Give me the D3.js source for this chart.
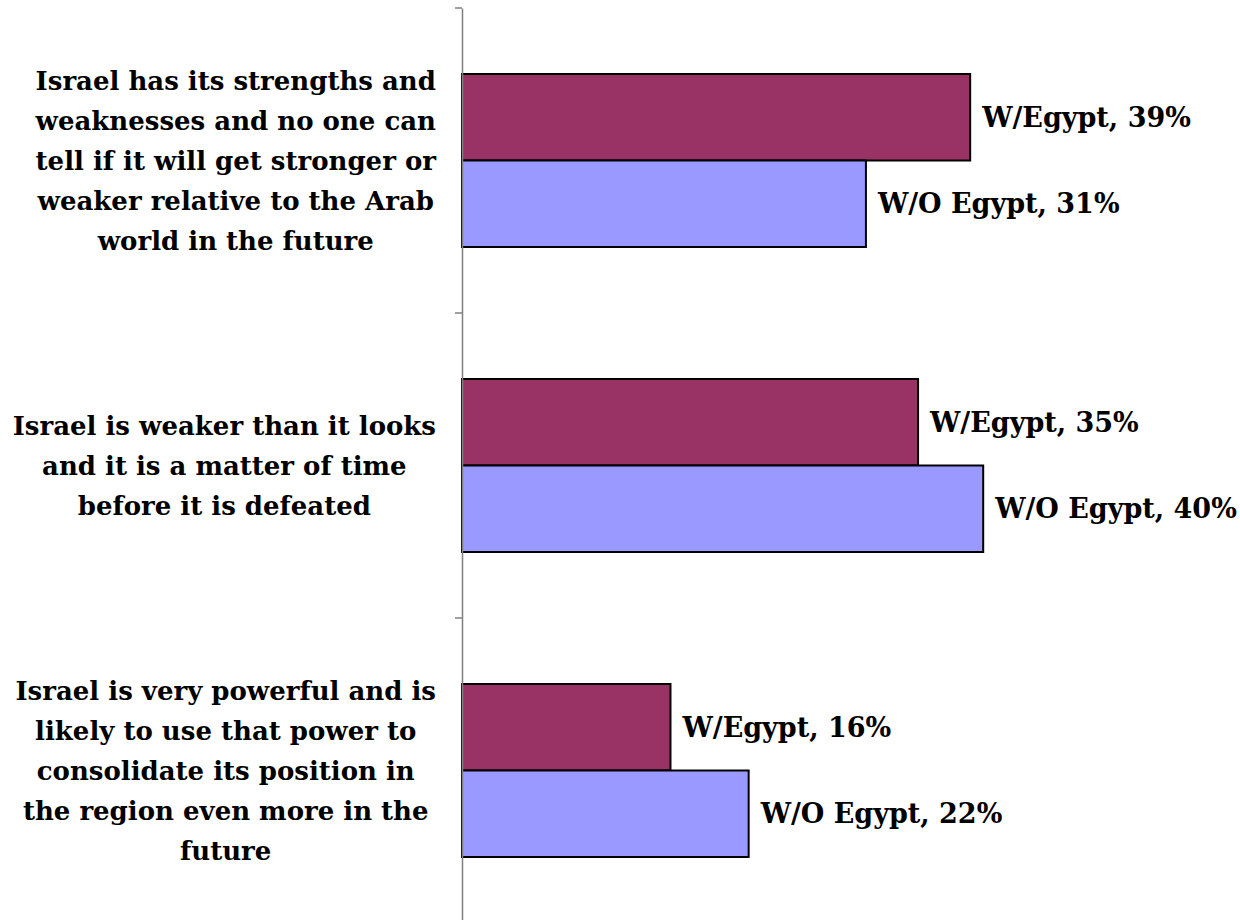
<!DOCTYPE html>
<html>
<head>
<meta charset="utf-8">
<script src="https://cdn.jsdelivr.net/npm/d3@7"></script>
<style>
  body { margin: 0; background: #fff; }
  svg { display: block; }
  text { font-family: "DejaVu Serif", "Liberation Serif", serif; font-weight: bold; fill: #000; }
</style>
</head>
<body>
<svg id="chart" width="1240" height="920"></svg>
<script>
const categories = [
  "Israel has its strengths and weaknesses and no one can tell if it will get stronger or weaker relative to the Arab world in the future",
  "Israel is weaker than it looks and it is a matter of time before it is defeated",
  "Israel is very powerful and is likely to use that power to consolidate its position in the region even more in the future"
];
const categoryLines = [
  ["Israel has its strengths and", "weaknesses and no one can", "tell if it will get stronger or", "weaker relative to the Arab", "world in the future"],
  ["Israel is weaker than it looks", "and it is a matter of time", "before it is defeated"],
  ["Israel is very powerful and is", "likely to use that power to", "consolidate its position in", "the region even more in the", "future"]
];
const seriesNames = ["W/Egypt", "W/O Egypt"];
const withEgypt = [39, 35, 16];
const withoutEgypt = [31, 40, 22];
const seriesColors = ["#993366", "#9999FF"];

const svg = d3.select("#chart");
const axisX = 462, plotTop = 8, plotBottom = 923;
const labelRight = 436;

const y = d3.scaleBand().domain(categories).range([plotTop, plotBottom]).paddingInner(0).paddingOuter(0);
const x = d3.scaleLinear().domain([0, 60]).range([axisX, axisX + 60 * 13.03]);
const inner = d3.scaleBand().domain(seriesNames).range([0, y.bandwidth()]).paddingInner(0).paddingOuter(0.763);

const rows = [];
categories.forEach((c, i) => {
  rows.push({cat: c, series: seriesNames[0], value: withEgypt[i], color: seriesColors[0]});
  rows.push({cat: c, series: seriesNames[1], value: withoutEgypt[i], color: seriesColors[1]});
});

svg.selectAll("rect.bar").data(rows).join("rect")
  .attr("class", "bar")
  .attr("x", x(0))
  .attr("y", d => y(d.cat) + inner(d.series))
  .attr("width", d => x(d.value) - x(0))
  .attr("height", inner.bandwidth())
  .attr("fill", d => d.color)
  .attr("stroke", "#000")
  .attr("stroke-width", 2);

svg.selectAll("text.val").data(rows).join("text")
  .attr("class", "val")
  .attr("x", d => x(d.value) + 12)
  .attr("y", d => y(d.cat) + inner(d.series) + inner.bandwidth() / 2)
  .attr("dy", "0.36em")
  .attr("font-size", 27)
  .text(d => `${d.series}, ${d.value}%`);

// axis
const axis = d3.axisLeft(y).tickSize(7).tickFormat("").tickSizeOuter(0);
const ag = svg.append("g").attr("transform", `translate(${axisX},0)`).call(axis);
ag.select(".domain").attr("stroke", "#808080").attr("stroke-width", 1.5);
ag.selectAll(".tick").remove();
const bounds = categories.map(c => y(c)).concat([plotBottom]);
ag.selectAll("line.bt").data(bounds).join("line")
  .attr("class", "bt")
  .attr("x1", -7).attr("x2", 0)
  .attr("y1", d => d).attr("y2", d => d)
  .attr("stroke", "#808080").attr("stroke-width", 1.5);

// category labels: centered lines inside a right-aligned box as wide as the widest line
const lineH = 40;
categories.forEach((c, i) => {
  const lines = categoryLines[i];
  const cy = y(c) + y.bandwidth() / 2;
  const t = svg.append("text")
    .attr("text-anchor", "middle")
    .attr("font-size", 26);
  const spans = lines.map((ln, j) => t.append("tspan")
      .attr("y", cy + (j - (lines.length - 1) / 2) * lineH)
      .attr("dy", "0.36em")
      .text(ln));
  const maxW = d3.max(spans, s => s.node().getComputedTextLength());
  spans.forEach(s => s.attr("x", labelRight - maxW / 2));
});
</script>
</body>
</html>
